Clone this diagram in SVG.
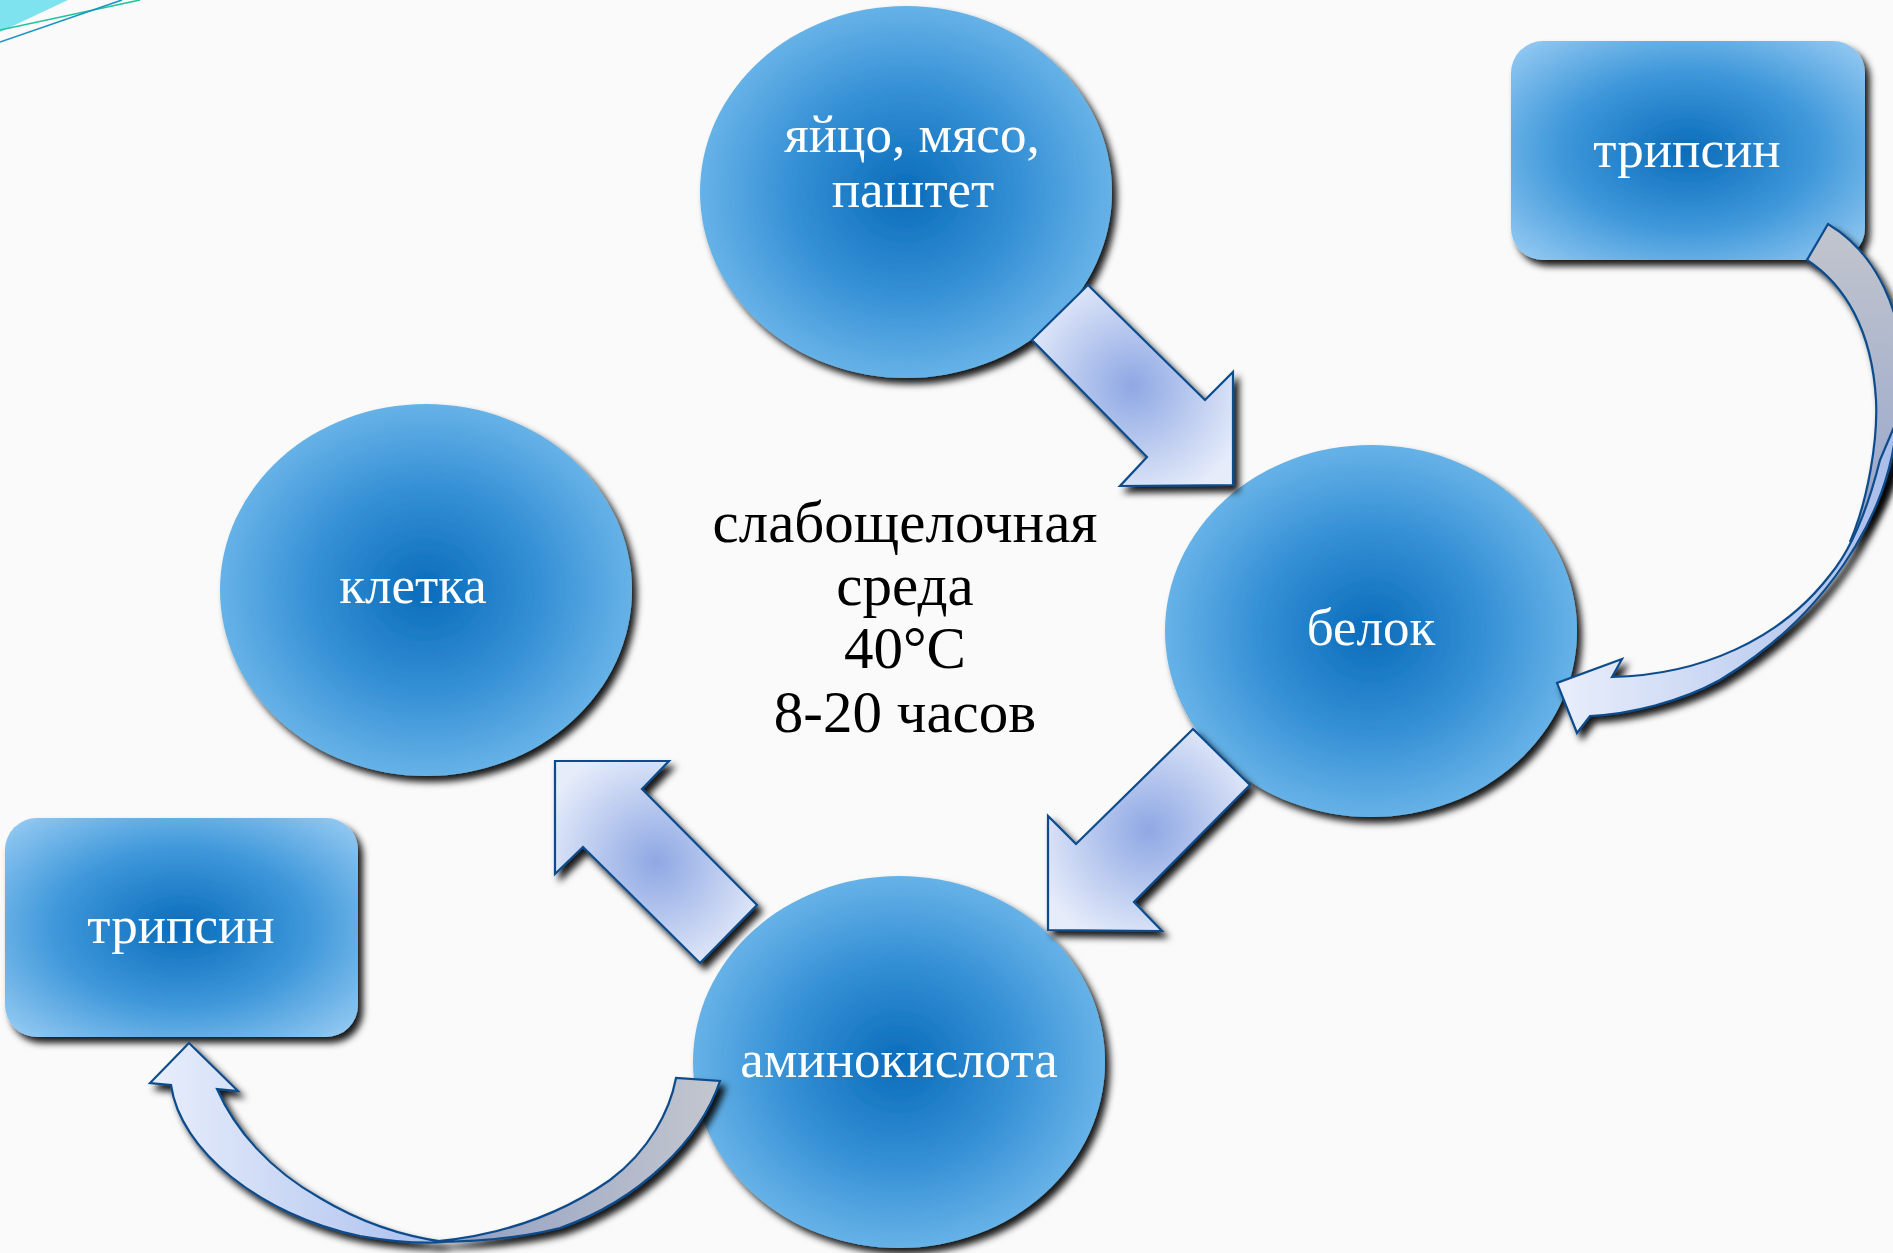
<svg xmlns="http://www.w3.org/2000/svg" width="1893" height="1253" viewBox="0 0 1893 1253">
<defs>
  <radialGradient id="gEll" cx="0.5" cy="0.5" r="0.5">
    <stop offset="0" stop-color="#0a6cbb"/>
    <stop offset="0.55" stop-color="#3590d5"/>
    <stop offset="1" stop-color="#66b2e7"/>
  </radialGradient>
  <radialGradient id="gRect" cx="0.5" cy="0.5" r="0.72">
    <stop offset="0" stop-color="#0a6cbb"/>
    <stop offset="0.5" stop-color="#3f98da"/>
    <stop offset="1" stop-color="#9fd0f5"/>
  </radialGradient>
  <radialGradient id="gArr" cx="0.5" cy="0.5" r="0.6">
    <stop offset="0" stop-color="#8ea8e4"/>
    <stop offset="1" stop-color="#e6ecfa"/>
  </radialGradient>
  <linearGradient id="gBackTR" x1="0" y1="0" x2="0" y2="1">
    <stop offset="0" stop-color="#c2c5cd"/>
    <stop offset="1" stop-color="#95a5cc"/>
  </linearGradient>
  <linearGradient id="gFrontTR" x1="0" y1="0" x2="1" y2="0">
    <stop offset="0" stop-color="#e8eefb"/>
    <stop offset="1" stop-color="#a9bdea"/>
  </linearGradient>
  <linearGradient id="gBackBL" x1="0" y1="0" x2="1" y2="0">
    <stop offset="0" stop-color="#8e9cc0"/>
    <stop offset="1" stop-color="#c4c7cf"/>
  </linearGradient>
  <linearGradient id="gFrontBL" x1="0" y1="0" x2="1" y2="0">
    <stop offset="0" stop-color="#e8eefb"/>
    <stop offset="1" stop-color="#aabfee"/>
  </linearGradient>
  <filter id="sh" x="-15%" y="-15%" width="140%" height="140%">
    <feDropShadow dx="5" dy="6" stdDeviation="3.5" flood-color="#000" flood-opacity="0.9"/>
  </filter>
  <style>
    .ell { fill: url(#gEll); filter: url(#sh); }
    .box { fill: url(#gRect); filter: url(#sh); }
    .lbl { font-family: "Liberation Serif", "DejaVu Serif", serif; font-size: 53px; fill: #ffffff; text-anchor: middle; }
    .ctr { font-family: "Liberation Serif", "DejaVu Serif", serif; font-size: 59px; fill: #000000; text-anchor: middle; }
    .arr { fill: url(#gArr); stroke: #0b4c8c; stroke-width: 2.2; stroke-linejoin: miter; filter: url(#sh); }
    .cv { stroke: #0b4c8c; stroke-width: 2.2; stroke-linejoin: miter; filter: url(#sh); }
  </style>
</defs>

<rect x="0" y="0" width="1893" height="1253" fill="#fafafa"/>

<g id="corner-decoration">
  <polygon points="0,0 68,0 0,32" fill="#7ee2ef"/>
  <line x1="0" y1="30" x2="140" y2="0" stroke="#22c49a" stroke-width="1.6"/>
  <line x1="0" y1="42" x2="122" y2="0" stroke="#1a94c0" stroke-width="1.6"/>
</g>

<g id="node-egg">
  <ellipse class="ell" cx="906" cy="192" rx="206" ry="186"/>
  <text class="lbl" x="912" y="152">яйцо, мясо,</text>
  <text class="lbl" x="913" y="207">паштет</text>
</g>

<g id="node-trypsin-top">
  <rect class="box" x="1511" y="41" width="354" height="219" rx="32" ry="32"/>
  <text class="lbl" x="1687" y="167">трипсин</text>
</g>

<g id="node-cell">
  <ellipse class="ell" cx="426" cy="590" rx="206" ry="186"/>
  <text class="lbl" x="413" y="603">клетка</text>
</g>

<g id="node-protein">
  <ellipse class="ell" cx="1371" cy="631" rx="206" ry="186"/>
  <text class="lbl" x="1371" y="645">белок</text>
</g>

<g id="node-aminoacid">
  <ellipse class="ell" cx="899" cy="1062" rx="206" ry="186"/>
  <text class="lbl" x="899" y="1077">аминокислота</text>
</g>

<g id="node-trypsin-bottom">
  <rect class="box" x="5" y="818" width="353" height="219" rx="32" ry="32"/>
  <text class="lbl" x="181" y="943">трипсин</text>
</g>

<g id="node-conditions">
  <text class="ctr" x="905" y="542">слабощелочная</text>
  <text class="ctr" x="905" y="605">среда</text>
  <text class="ctr" x="905" y="668">40°C</text>
  <text class="ctr" x="905" y="732">8-20 часов</text>
</g>

<g id="connectors">
  <polygon class="arr" points="1032,340 1088,285 1205,400 1233,372 1233,485 1120,486 1147,457"/>
  <polygon class="arr" points="1250,785 1193,729 1076,844 1048,816 1048,930 1162,931 1134,902"/>
  <polygon class="arr" points="757,905 700,963 583,847 555,874 555,761 669,761 642,789"/>

  <g id="curve-top-right">
    <path class="cv" fill="url(#gBackTR)" d="M1828,224 C1875,252 1905,310 1905,390 C1905,450 1885,500 1850,542 C1868,500 1878,440 1876,400 C1872,330 1845,285 1807,260 Z"/>
    <path class="cv" fill="url(#gFrontTR)" d="M1897,420 C1890,520 1820,620 1720,680 C1680,702 1630,714 1590,716 L1577,733 L1557,683 L1622,659 L1612,677 C1700,675 1780,640 1830,575 C1855,545 1870,500 1880,460 Z"/>
  </g>

  <g id="curve-bottom-left">
    <path class="cv" fill="url(#gBackBL)" d="M720,1081 C700,1140 640,1200 560,1228 C520,1238 470,1242 430,1242 C500,1236 560,1215 610,1180 C650,1150 670,1110 676,1078 Z"/>
    <path class="cv" fill="url(#gFrontBL)" d="M171,1085 C180,1150 260,1215 360,1236 C400,1243 430,1243 445,1242 C400,1236 360,1222 320,1198 C270,1170 235,1130 217,1089 L238,1091 L189,1043 L150,1083 Z"/>
  </g>
</g>
</svg>
